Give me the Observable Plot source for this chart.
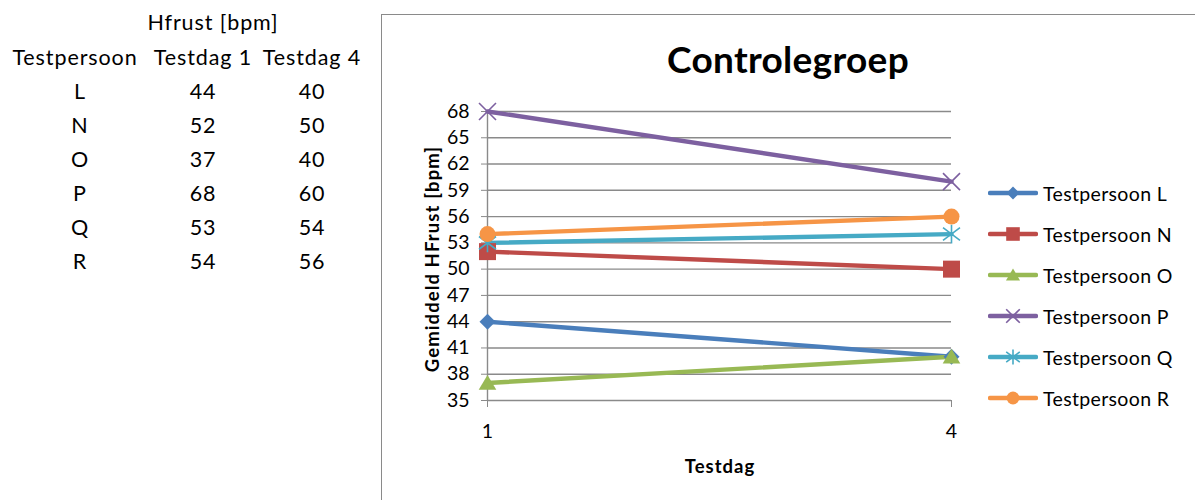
<!DOCTYPE html>
<html>
<head>
<meta charset="utf-8">
<script src="https://cdn.jsdelivr.net/npm/d3@7"></script>
<script src="https://cdn.jsdelivr.net/npm/@observablehq/plot@0.6"></script>
<style>
  html, body { margin: 0; padding: 0; background: #fff; }
  #wrap { position: relative; width: 1195px; height: 500px; overflow: hidden; font-family: Lato, "Noto Sans", sans-serif; color: #000; }
  .cell { position: absolute; white-space: nowrap; transform: translate(-50%, -50%); font-size: 21.5px; letter-spacing: 0.9px; }
  #frame { position: absolute; left: 381px; top: 14px; width: 900px; height: 600px; border: 1.5px solid #8a8a8a; box-sizing: border-box; }
  #plot { position: absolute; left: 381px; top: 14px; }
  .title { position: absolute; left: 788px; top: 58px; transform: translate(-50%, -50%); font-size: 37px; font-weight: 700; letter-spacing: 0.3px; white-space: nowrap; }
  .ylab { position: absolute; left: 432px; top: 259px; transform: translate(-50%, -50%) rotate(-90deg); font-size: 18.5px; font-weight: 700; letter-spacing: 1.1px; white-space: nowrap; }
  .xlab { position: absolute; left: 720px; top: 466px; transform: translate(-50%, -50%); font-size: 18.5px; font-weight: 700; letter-spacing: 1px; white-space: nowrap; }
  .leg { position: absolute; left: 988px; height: 20px; display: flex; align-items: center; font-size: 19.5px; letter-spacing: 0.35px; white-space: nowrap; transform: translateY(-50%); }
  .leg svg { margin-right: 5px; }
</style>
</head>
<body>
<div id="wrap">
  <div id="frame"></div>
  <div id="plot"></div>
</div>
<script>
// ---- data ----
const persons = ["L", "N", "O", "P", "Q", "R"];
const seriesNames = ["Testpersoon L", "Testpersoon N", "Testpersoon O", "Testpersoon P", "Testpersoon Q", "Testpersoon R"];
const days = ["1", "4"];
const day1 = [44, 52, 37, 68, 53, 54];
const day4 = [40, 50, 40, 60, 54, 56];
const yTicks = [35, 38, 41, 44, 47, 50, 53, 56, 59, 62, 65, 68];
const tableTitle = "Hfrust [bpm]";
const tableHeaders = ["Testpersoon", "Testdag 1", "Testdag 4"];
const chartTitle = "Controlegroep";
const yLabel = "Gemiddeld HFrust [bpm]";
const xLabel = "Testdag";

// ---- styles ----
const colors = ["#4A7EBB", "#BE4B48", "#98B954", "#7D60A0", "#46AAC5", "#F69546"];

// custom Excel-like markers (d3 symbol types, size -> pixel half-extent squared)
const diamondSym = { draw(ctx, size) { const r = Math.sqrt(size); ctx.moveTo(0, -r); ctx.lineTo(r, 0); ctx.lineTo(0, r); ctx.lineTo(-r, 0); ctx.closePath(); } };
const squareSym = { draw(ctx, size) { const r = Math.sqrt(size); ctx.rect(-r, -r, 2 * r, 2 * r); } };
const triSym = { draw(ctx, size) { const r = Math.sqrt(size); ctx.moveTo(0, -r); ctx.lineTo(r * 1.1, r * 0.85); ctx.lineTo(-r * 1.1, r * 0.85); ctx.closePath(); } };
const xSym = { draw(ctx, size) { const r = Math.sqrt(size); ctx.moveTo(-r, -r); ctx.lineTo(r, r); ctx.moveTo(r, -r); ctx.lineTo(-r, r); } };
const starSym = { draw(ctx, size) { const r = Math.sqrt(size); ctx.moveTo(-r, -r * 0.75); ctx.lineTo(r, r * 0.75); ctx.moveTo(r, -r * 0.75); ctx.lineTo(-r, r * 0.75); ctx.moveTo(0, -r * 1.1); ctx.lineTo(0, r * 1.1); } };
const circleSym = { draw(ctx, size) { const r = Math.sqrt(size); ctx.moveTo(r, 0); ctx.arc(0, 0, r, 0, 2 * Math.PI); } };
const markerDefs = [
  { sym: diamondSym, half: 8, filled: true },
  { sym: squareSym, half: 8.5, filled: true },
  { sym: triSym, half: 8, filled: true },
  { sym: xSym, half: 8.5, filled: false },
  { sym: starSym, half: 8.5, filled: false },
  { sym: circleSym, half: 8, filled: true }
];

const rows = persons.flatMap((p, i) => [
  { person: seriesNames[i], day: days[0], v: day1[i] },
  { person: seriesNames[i], day: days[1], v: day4[i] }
]);

const W = 814, H = 486;
const marks = [
  Plot.ruleY(yTicks, { stroke: "#8a8a8a", strokeWidth: 1.4 }),
  Plot.ruleX([days[0]], { stroke: "#8a8a8a", strokeWidth: 1.4 }),
  Plot.axisY({ ticks: yTicks, tickSize: 6, tickPadding: 12, label: null, stroke: "#8a8a8a", fontSize: 19.5, tickFormat: d => String(d) }),
  Plot.axisX({ tickSize: 7, tickPadding: 17, label: null, stroke: "#8a8a8a", fontSize: 19.5 }),
  Plot.line(rows, { x: "day", y: "v", z: "person", stroke: "person", strokeWidth: 4.4 })
];
seriesNames.forEach((name, i) => {
  const m = markerDefs[i];
  const d = rows.filter(r => r.person === name);
  marks.push(Plot.dot(d, {
    x: "day", y: "v",
    symbol: () => m.sym,
    r: Math.sqrt(m.half * m.half / Math.PI),
    fill: m.filled ? colors[i] : "none",
    stroke: colors[i],
    strokeWidth: m.filled ? 0 : 1.6
  }));
});

const chart = Plot.plot({
  width: W, height: H,
  marginLeft: 106, marginRight: 244, marginTop: 97, marginBottom: 100,
  style: { fontFamily: "Lato, 'Noto Sans', sans-serif", fontSize: "19.5px", color: "#000", background: "transparent", overflow: "visible" },
  x: { type: "point", domain: days, padding: 0 },
  y: { domain: [35, 68] },
  color: { domain: seriesNames, range: colors },
  symbol: { type: "identity" },
  marks
});
document.getElementById("plot").appendChild(chart);

const wrap = document.getElementById("wrap");
function addDiv(cls, text, left, top) {
  const el = document.createElement("div");
  el.className = cls; el.textContent = text;
  if (left != null) el.style.left = left + "px";
  if (top != null) el.style.top = top + "px";
  wrap.appendChild(el);
  return el;
}

// left data table
addDiv("cell", tableTitle, 213, 22);
const colX = [75, 203, 312];
tableHeaders.forEach((h, j) => addDiv("cell", h, colX[j], 57));
persons.forEach((p, i) => {
  const y = 91 + i * 34;
  addDiv("cell", p, 80, y);
  addDiv("cell", String(day1[i]), 203, y);
  addDiv("cell", String(day4[i]), 312, y);
});

// titles
addDiv("title", chartTitle);
addDiv("ylab", yLabel);
addDiv("xlab", xLabel);

// legend
const legY = [193, 234, 275, 316, 357, 398];
seriesNames.forEach((name, i) => {
  const m = markerDefs[i];
  const el = document.createElement("div");
  el.className = "leg";
  el.style.top = legY[i] + "px";
  const ns = "http://www.w3.org/2000/svg";
  const svg = document.createElementNS(ns, "svg");
  svg.setAttribute("width", 50); svg.setAttribute("height", 20);
  const ln = document.createElementNS(ns, "line");
  ln.setAttribute("x1", 2); ln.setAttribute("x2", 48); ln.setAttribute("y1", 10); ln.setAttribute("y2", 10);
  ln.setAttribute("stroke", colors[i]); ln.setAttribute("stroke-width", 4.4); ln.setAttribute("stroke-linecap", "round");
  svg.appendChild(ln);
  const path = document.createElementNS(ns, "path");
  const ctx = d3.path();
  const h = m.half * 0.8;
  m.sym.draw(ctx, h * h);
  path.setAttribute("d", ctx.toString());
  path.setAttribute("transform", "translate(25,10)");
  path.setAttribute("fill", m.filled ? colors[i] : "none");
  path.setAttribute("stroke", colors[i]);
  path.setAttribute("stroke-width", m.filled ? 0 : 1.6);
  svg.appendChild(path);
  el.appendChild(svg);
  const t = document.createElement("span");
  t.textContent = name;
  el.appendChild(t);
  wrap.appendChild(el);
});
</script>
</body>
</html>
